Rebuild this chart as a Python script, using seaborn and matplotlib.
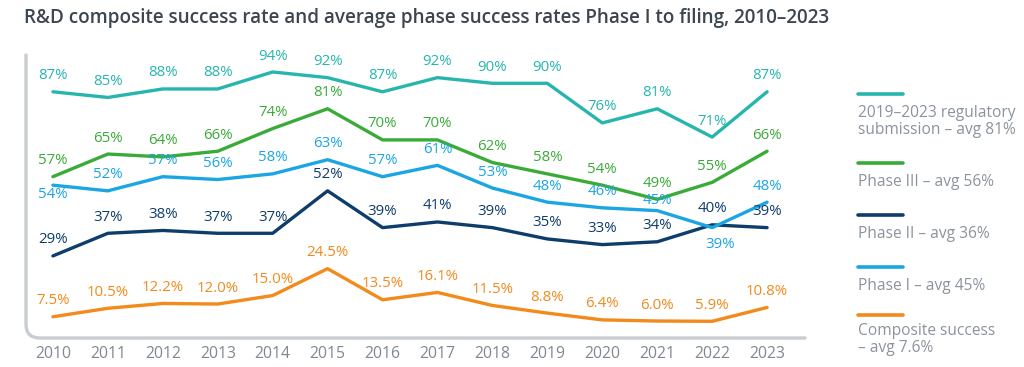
import matplotlib
matplotlib.use("Agg")
import matplotlib.pyplot as plt
from matplotlib.lines import Line2D
from matplotlib.path import Path
from matplotlib.patches import PathPatch
import seaborn as sns
import pandas as pd

years = list(range(2010, 2024))
regulatory = [87, 85, 88, 88, 94, 92, 87, 92, 90, 90, 76, 81, 71, 87]
phase3 = [57, 65, 64, 66, 74, 81, 70, 70, 62, 58, 54, 49, 55, 66]
phase2 = [29, 37, 38, 37, 37, 52, 39, 41, 39, 35, 33, 34, 40, 39]
phase1 = [54, 52, 57, 56, 58, 63, 57, 61, 53, 48, 46, 45, 39, 48]
composite = [7.5, 10.5, 12.2, 12.0, 15.0, 24.5, 13.5, 16.1, 11.5, 8.8, 6.4, 6.0, 5.9, 10.8]

series_names = ["regulatory", "phase3", "phase2", "phase1", "composite"]
series_values = [regulatory, phase3, phase2, phase1, composite]
legend_labels = [
    "2019\u20132023 regulatory\nsubmission \u2013 avg 81%",
    "Phase III \u2013 avg 56%",
    "Phase II \u2013 avg 36%",
    "Phase I \u2013 avg 45%",
    "Composite success\n\u2013 avg 7.6%",
]
colors = {
    "regulatory": "#27b5ae",
    "phase3": "#3aab38",
    "phase2": "#0e3d6b",
    "phase1": "#1ba6e3",
    "composite": "#f28a1c",
}

sns.set_style("white")
plt.rcParams["font.family"] = ["Open Sans", "DejaVu Sans"]

rows = []
for name, vals in zip(series_names, series_values):
    for y, v in zip(years, vals):
        rows.append({"year": y, "value": v, "series": name})
df = pd.DataFrame(rows)

W, H = 1024, 367
fig = plt.figure(figsize=(W / 100, H / 100), dpi=100)
fig.patch.set_facecolor("white")
left, right, top, bottom = 26, 805, 55, 338
ax = fig.add_axes([left / W, 1 - bottom / H, (right - left) / W, (bottom - top) / H])

sns.lineplot(data=df, x="year", y="value", hue="series", hue_order=series_names,
             palette=colors, linewidth=2.4, legend=False, ax=ax, solid_capstyle="round")

ax.set_xlim(2009.51, 2023.69)
ax.set_ylim(0, 100)
for s in ax.spines.values():
    s.set_visible(False)
ax.set_yticks([])
ax.set_xticks(years)
ax.set_xticklabels([str(y) for y in years])
ax.tick_params(axis="x", length=0, pad=6, labelsize=11.3, labelcolor="#7f8791")
ax.set_xlabel("")
ax.set_ylabel("")

# rounded-corner axis frame
r = 0.018
verts = [(0, 1), (0, r * 2.7), (0, 0), (r, 0), (1, 0)]
codes = [Path.MOVETO, Path.LINETO, Path.CURVE3, Path.CURVE3, Path.LINETO]
ax.add_patch(PathPatch(Path(verts, codes), transform=ax.transAxes, fill=False,
                       edgecolor="#c9cdd2", linewidth=2.4, clip_on=False, capstyle="round"))

# data labels
def fmt(name, v):
    return f"{v:.1f}%" if name == "composite" else f"{v:.0f}%"

special = {
    ("phase1", 2010): (0, -7),
    ("phase1", 2022): (6, -12),
    ("phase1", 2021): (0, 7),
}
for name, vals in zip(series_names, series_values):
    for y, v in zip(years, vals):
        dx, dy = special.get((name, y), (0, 11.5))
        ax.annotate(fmt(name, v), (y, v), xytext=(dx, dy), textcoords="offset points",
                    ha="center", va="center", fontsize=10.8, color=colors[name])

# title
fig.text(24 / W, 1 - 18 / H,
         "R&D composite success rate and average phase success rates Phase I to filing, 2010\u20132023",
         ha="left", va="center", fontsize=13.6, fontweight="semibold", color="#3b4650")

# custom legend
line_y = [94, 163, 215, 267, 315]
text_y = [121.5, 182, 234, 286, 339.5]
for name, lab, ly, ty in zip(series_names, legend_labels, line_y, text_y):
    fig.add_artist(Line2D([858 / W, 903 / W], [1 - ly / H, 1 - ly / H], color=colors[name],
                          linewidth=2.6, transform=fig.transFigure))
    fig.text(858 / W, 1 - ty / H, lab, ha="left", va="center", fontsize=11.2,
             color="#8b939c", linespacing=1.1)

fig.savefig("out.png", dpi=100, facecolor="white")
